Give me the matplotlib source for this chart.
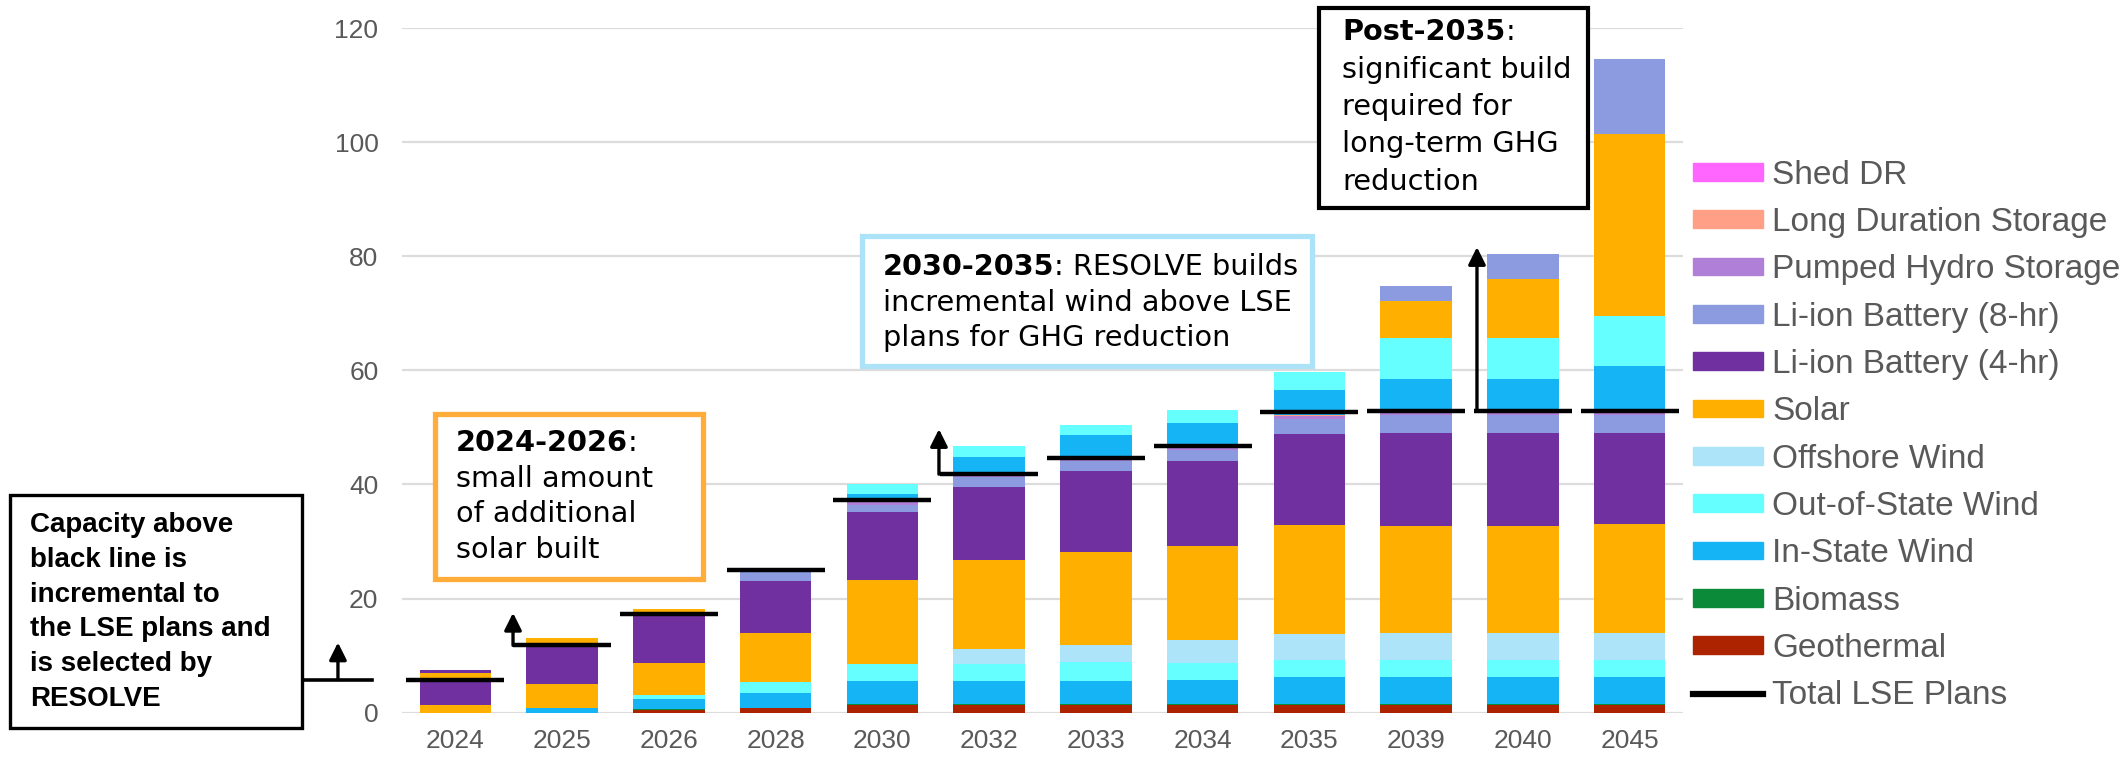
import matplotlib.pyplot as plt
from matplotlib.patches import Rectangle, Patch
from matplotlib.lines import Line2D
import numpy as np

years = ['2024', '2025', '2026', '2028', '2030', '2032', '2033', '2034', '2035', '2039', '2040', '2045']

resources = ['Geothermal', 'Biomass', 'In-State Wind', 'Out-of-State Wind', 'Offshore Wind', 'Solar',
             'Li-ion Battery (4-hr)', 'Li-ion Battery (8-hr)', 'Pumped Hydro Storage',
             'Long Duration Storage', 'Shed DR']
colors = ['#AD2300', '#0B8A3A', '#14B4F5', '#66FFFF', '#ADE4F9', '#FFAF00',
          '#7030A0', '#8C9AE0', '#B07FD8', '#FF9F85', '#FF66FF']

# capacity in LSE plans (GW), stacked below the black line
lse_geothermal = [0, 0, 0.5, 0.8, 1.4, 1.4, 1.4, 1.4, 1.4, 1.4, 1.4, 1.4]
lse_biomass = [0, 0, 0.1, 0.1, 0.1, 0.1, 0.1, 0.1, 0.1, 0.1, 0.1, 0.1]
lse_instate = [0, 0.76, 1.75, 2.5, 4.1, 4.1, 4.1, 4.25, 4.7, 4.8, 4.8, 4.8]
lse_oos = [0, 0, 0.75, 2.05, 2.9, 2.9, 3.2, 2.95, 3.1, 3.0, 3.0, 3.0]
lse_offshore = [0, 0, 0, 0, 0, 2.7, 3.1, 4.0, 4.55, 4.6, 4.6, 4.6]
lse_solar = [1.35, 4.3, 5.6, 8.6, 14.7, 15.6, 16.3, 16.5, 19.0, 18.9, 18.9, 19.2]
lse_li4 = [4.35, 6.7, 8.5, 9.1, 11.9, 12.7, 14.1, 15.0, 16.0, 16.2, 16.2, 15.9]
lse_li8 = [0, 0, 0, 1.6, 1.3, 1.8, 1.8, 1.9, 2.7, 3.2, 3.2, 3.2]
lse_phs = [0, 0, 0, 0, 0.5, 0.4, 0.4, 0.4, 0.4, 0.4, 0.4, 0.4]
lse_lds = [0, 0, 0, 0, 0, 0, 0, 0, 0.3, 0.3, 0.3, 0.3]
lse_shed = [0] * 12

# incremental capacity selected by RESOLVE, stacked above the black line
add_instate = [0, 0, 0, 0, 1.4, 3.2, 4.2, 4.3, 4.25, 5.6, 5.6, 7.9]
add_oos = [0, 0, 0, 0, 1.8, 1.8, 1.7, 2.2, 3.2, 7.2, 7.2, 8.8]
add_solar = [1.3, 1.3, 0.9, 0, 0, 0, 0, 0, 0, 6.4, 10.3, 31.8]
add_li4 = [0.5, 0, 0, 0, 0, 0, 0, 0, 0, 0, 0, 0]
add_li8 = [0, 0, 0, 0, 0, 0, 0, 0, 0, 2.6, 4.4, 13.2]

total_lse = [5.8, 11.8, 17.25, 25.0, 37.2, 41.8, 44.6, 46.8, 52.7, 52.9, 52.9, 52.9]

zero = [0] * 12
lse_layers = [lse_geothermal, lse_biomass, lse_instate, lse_oos, lse_offshore, lse_solar,
              lse_li4, lse_li8, lse_phs, lse_lds, lse_shed]
add_layers = [zero, zero, add_instate, add_oos, zero, add_solar, add_li4, add_li8, zero, zero, zero]

W, H = 2126, 757
fig = plt.figure(figsize=(W / 100, H / 100), dpi=100)
ax = fig.add_axes([402 / W, 1 - 712.7 / H, (1683 - 402) / W, (712.7 - 28) / H])

x = np.arange(len(years))
bottom = np.zeros(len(years))
for layers in (lse_layers, add_layers):
    for vals, c in zip(layers, colors):
        vals = np.array(vals, dtype=float)
        ax.bar(x, vals, 0.67, bottom=bottom, color=c, zorder=2)
        bottom += vals

# black LSE lines
for i, v in enumerate(total_lse):
    ax.plot([i - 0.46, i + 0.46], [v, v], color='black', lw=3.2, zorder=4, solid_capstyle='butt')

ax.set_xlim(-0.5, 11.5)
ax.set_ylim(0, 120)
ax.set_yticks(range(0, 121, 20))
ax.set_xticks(x)
ax.set_xticklabels(years)
ax.grid(axis='y', color='#DCDCDC', lw=1.6, zorder=0)
ax.set_axisbelow(True)
for s in ax.spines.values():
    s.set_visible(False)
ax.tick_params(length=0, labelsize=19, labelcolor='#595959')
ax.tick_params(axis='y', pad=17)
ax.tick_params(axis='x', pad=12)
for lab in ax.get_xticklabels() + ax.get_yticklabels():
    lab.set_family('Liberation Sans')

# arrows
arrow = dict(arrowstyle='-|>', lw=2.4, color='black', mutation_scale=26, shrinkA=0, shrinkB=0)
ax.annotate('', xy=(1 - 0.46, 17.5), xytext=(1 - 0.46, total_lse[1]), arrowprops=arrow, zorder=5)
ax.annotate('', xy=(5 - 0.47, 49.7), xytext=(5 - 0.47, total_lse[5]), arrowprops=arrow, zorder=5)
ax.annotate('', xy=(10 - 0.43, 81.6), xytext=(10 - 0.43, total_lse[10]), arrowprops=arrow, zorder=5)
ax.annotate('', xy=(-1.10, 12.3), xytext=(-1.10, total_lse[0]), arrowprops=arrow,
            annotation_clip=False)
ax.plot([-1.43, -0.78], [total_lse[0], total_lse[0]], color='black', lw=2.6, clip_on=False)

# annotation boxes (figure pixels)
def box(x0, y0, x1, y1, color, lw):
    fig.add_artist(Rectangle((x0 / W, 1 - y1 / H), (x1 - x0) / W, (y1 - y0) / H,
                             transform=fig.transFigure, facecolor='white', edgecolor=color,
                             lw=lw, zorder=6))

fam = 'DejaVu Sans'
fs = 20.7
renderer = fig.canvas.get_renderer()

def lines(x0, y0, dy, rows, head=None, rest=''):
    y = y0
    if head is not None:
        t = fig.text(x0 / W, 1 - y / H, head, fontsize=fs, family=fam, weight='bold',
                     va='center', ha='left', zorder=7)
        bb = t.get_window_extent(renderer)
        fig.text(bb.x1 / W, 1 - y / H, ':' + rest, fontsize=fs, family=fam,
                 va='center', ha='left', zorder=7)
        y += dy
    for r in rows:
        fig.text(x0 / W, 1 - y / H, r, fontsize=fs, family=fam, va='center', ha='left', zorder=7)
        y += dy

box(10, 495, 302, 728, 'black', 2.4)
for k, r in enumerate(['Capacity above', 'black line is', 'incremental to',
                       'the LSE plans and', 'is selected by', 'RESOLVE']):
    fig.text(30 / W, 1 - (525 + 34.8 * k) / H, r, fontsize=20, weight='bold',
             family='Liberation Sans', va='center', ha='left', zorder=7)

box(435, 414, 703, 579, '#FFAC3A', 3.8)
lines(456, 443, 35.6, ['small amount', 'of additional', 'solar built'], head='2024-2026')

box(862, 236, 1312, 366, '#ADE3F8', 3.8)
lines(883, 267, 35.5, ['incremental wind above LSE', 'plans for GHG reduction'],
      head='2030-2035', rest=' RESOLVE builds')

box(1319, 8, 1588, 208, 'black', 3.0)
lines(1342, 32, 37.5, ['significant build', 'required for', 'long-term GHG', 'reduction'],
      head='Post-2035')

# legend
handles = [Patch(color=c, label=n) for n, c in zip(resources, colors)][::-1]
handles.append(Line2D([0], [0], color='black', lw=4.5, label='Total LSE Plans'))
leg = fig.legend(handles=handles, loc='center left', bbox_to_anchor=(1693 / W, 1 - 435.5 / H),
                 frameon=False, borderpad=0, borderaxespad=0,
                 handlelength=2.1, handleheight=0.45, handletextpad=0.27, labelspacing=0.49,
                 prop={'family': 'Liberation Sans', 'size': 24})
for t in leg.get_texts():
    t.set_color('#595959')

fig.savefig('out.png', dpi=100)
